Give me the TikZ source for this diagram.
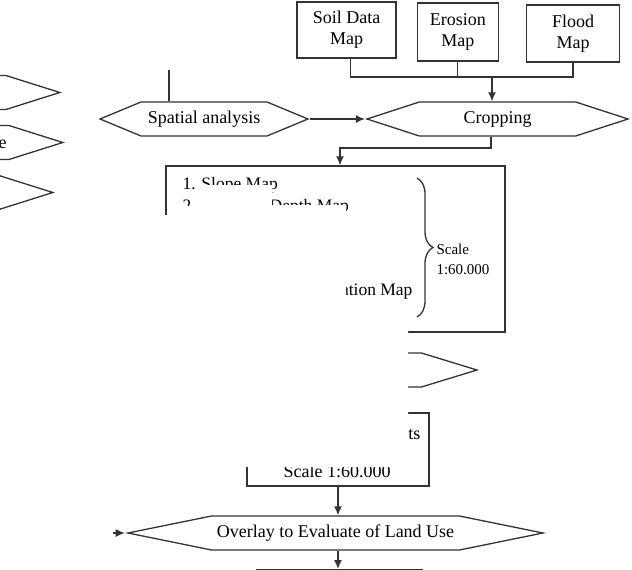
\documentclass[tikz,border=0pt]{standalone}
\usepackage{fontspec}
\setmainfont{Liberation Serif}
\usetikzlibrary{arrows.meta,positioning,calc,shapes.symbols,decorations.pathreplacing}

\begin{document}
\begin{tikzpicture}[
                x=1pt, y=-1pt,
                font=\fontsize{18}{21}\selectfont,
                >=Latex,
                block/.style={draw=black!80, line width=1.3pt, align=center, inner sep=2pt},
                hexa/.style={draw=black!80, line width=1.3pt, shape=signal, signal to=east and west, minimum height=34pt, inner sep=2pt},
                item/.style={font=\fontsize{17.5}{21}\selectfont},
                line/.style={draw=black!80, line width=1.3pt},
                arrow/.style={line, -{Latex[length=9pt,width=8pt]}},
            ]
            \useasboundingbox (0,0) rectangle (632,570);
            \clip (0,0) rectangle (632,570);

            % ----- Input maps -----
            \node[block, minimum width=99pt, minimum height=56pt] (soil) at (346.5,30) {Soil Data\\Map};
            \node[block, minimum width=81pt, minimum height=58pt, right=20pt of soil, yshift=-2pt] (erosion) {Erosion\\Map};
            \node[block, minimum width=93pt, minimum height=57pt, right=27pt of erosion, yshift=-1.5pt] (flood) {Flood\\Map};

            % bus under the input maps
            \coordinate (bus) at (492,77);
            \draw[line] ([xshift=4pt]soil.south) |- (flood.south |- bus) -- (flood.south);
            \draw[line] (erosion.south) -- (erosion.south |- bus);

            % ----- Analysis row -----
            \node[hexa, minimum width=208pt, signal pointer angle=45] (spatial) at (204,119) {Spatial analysis};
            \node[hexa, minimum width=261pt, signal pointer angle=36] (cropping) at (497.5,119) {Cropping};

            \draw[arrow] (bus) -- (bus |- cropping.north);
            \draw[arrow] (spatial.east) -- (cropping.west);
            \coordinate (lead) at (169,70);
            \draw[line] (lead |- spatial.north) -- (lead);

            % left column (cut by the page edge)
            \node[hexa, minimum width=188pt, signal pointer angle=35, anchor=east] (leftA) at (62,92.5) {};
            \node[hexa, minimum width=182pt, signal pointer angle=35, anchor=east] (leftB) at (65,142.5) {Land Use};
            \node[hexa, minimum width=188pt, signal pointer angle=35, anchor=east] (leftC) at (55,192.5) {};

            % ----- Map list -----
            \node[block, minimum width=339pt, minimum height=166pt] (maps) at (335.5,249) {};
            \node[item, anchor=west] (item1) at (179,185) {1. Slope Map};
            \node[item, anchor=west] (item2) at (179,207) {2. Effective Depth Map};
            \node[item, anchor=east] (item6) at (416,291) {6. Land Utilization Map};
            \draw[line, decorate, decoration={brace, amplitude=16pt}] (417,178) -- (417,317);
            \node[anchor=west, font=\fontsize{15}{20}\selectfont, align=left] (scale1) at (433,259) {Scale\\1:60.000};

            \coordinate (turn) at (340,148);
            \draw[arrow] ([xshift=-6.5pt]cropping.south) |- (turn) -- (turn |- maps.north);

            % ----- Lower part -----
            \node[hexa, minimum width=280pt, signal pointer angle=34] (assess) at (337,370) {};
            \node[block, minimum width=182pt, minimum height=73pt] (units) at (338,449.5) {};
            \node[anchor=east] (unitsname) at (424,433) {Land Units};
            \node (unitsscale) at (337,471) {Scale 1:60.000};

            \node[hexa, minimum width=415pt, signal pointer angle=23] (overlay) at (335.5,533) {Overlay to Evaluate of Land Use};
            \node[block, minimum width=165pt, minimum height=30pt, anchor=north] (result) at (339.5,569) {};

            \draw[arrow] (units.south) -- (units.south |- overlay.north);
            \coordinate (feed) at (113,533);
            \draw[arrow] (feed) -- (overlay.west);
            \draw[arrow] (units.south |- overlay.south) -- (units.south |- result.north);

            % covered part of the scan
            \fill[white] (197,185) -- (272,185) -- (272,205) -- (346,205) -- (346,300) -- (408,300)
                -- (408,467) -- (-5,467) -- (-5,215) -- (170,215) -- (170,206) -- (197,206) -- cycle;
\end{tikzpicture}
\end{document}
